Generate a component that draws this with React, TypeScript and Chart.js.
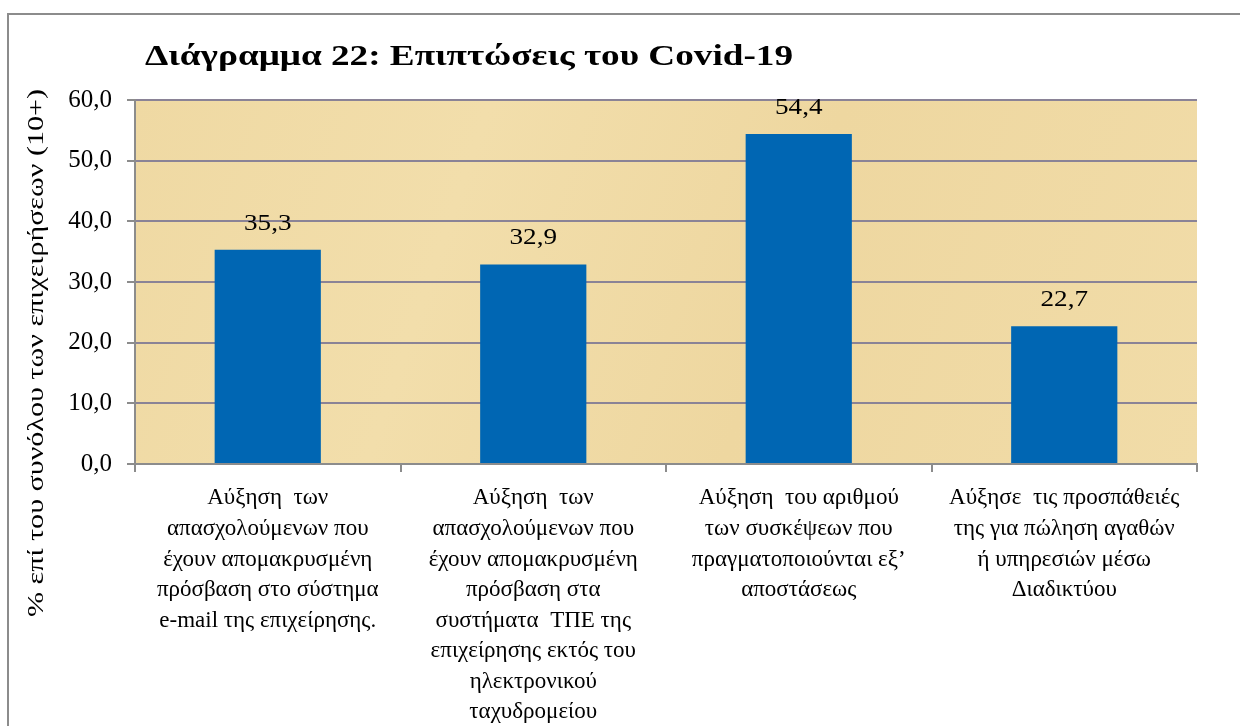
import React, { useEffect, useRef } from "react";
import { Chart, registerables } from "chart.js";

Chart.register(...registerables);

const TITLE = "Διάγραμμα 22: Επιπτώσεις του Covid-19";
const Y_TITLE = "% επί του συνόλου των επιχειρήσεων (10+)";

const CATEGORIES: string[][] = [
  ["Αύξηση  των", "απασχολούμενων που", "έχουν απομακρυσμένη", "πρόσβαση στο σύστημα", "e-mail της επιχείρησης."],
  ["Αύξηση  των", "απασχολούμενων που", "έχουν απομακρυσμένη", "πρόσβαση στα", "συστήματα  ΤΠΕ της", "επιχείρησης εκτός του", "ηλεκτρονικού", "ταχυδρομείου"],
  ["Αύξηση  του αριθμού", "των συσκέψεων που", "πραγματοποιούνται εξ’", "αποστάσεως"],
  ["Αύξησε  τις προσπάθειές", "της για πώληση αγαθών", "ή υπηρεσιών μέσω", "Διαδικτύου"],
];

const VALUES: number[] = [35.3, 32.9, 54.4, 22.7];

const Y_MIN = 0;
const Y_MAX = 60;
const Y_STEP = 10;

const FONT = "'Liberation Serif', 'Times New Roman', serif";
const fmt = (v: number) => v.toFixed(1).replace(".", ",");

// draws text horizontally stretched by sx around (x, y) with the current alignment
function stretchedText(ctx: CanvasRenderingContext2D, text: string, x: number, y: number, sx: number) {
  ctx.save();
  ctx.translate(x, y);
  ctx.scale(sx, 1);
  ctx.fillText(text, 0, 0);
  ctx.restore();
}

const decorPlugin = {
  id: "decor",
  beforeDraw(chart: any) {
    const { ctx, chartArea, width, height } = chart;
    ctx.save();
    ctx.fillStyle = "#ffffff";
    ctx.fillRect(0, 0, width, height);
    ctx.strokeStyle = "#8c8c8c";
    ctx.lineWidth = 2;
    ctx.strokeRect(8, 14, width + 40, height + 40);
    const g = ctx.createLinearGradient(chartArea.left, chartArea.top, chartArea.right, chartArea.bottom);
    g.addColorStop(0, "#efd9a3");
    g.addColorStop(0.3, "#f2deab");
    g.addColorStop(0.6, "#eed7a0");
    g.addColorStop(1, "#f1dca8");
    ctx.fillStyle = g;
    ctx.fillRect(chartArea.left, chartArea.top, chartArea.right - chartArea.left, chartArea.bottom - chartArea.top);
    ctx.restore();
  },
  afterDraw(chart: any) {
    const { ctx } = chart;
    ctx.save();
    ctx.fillStyle = "#000000";
    // title
    ctx.font = `bold 30px ${FONT}`;
    ctx.textAlign = "left";
    ctx.textBaseline = "alphabetic";
    const tw = ctx.measureText(TITLE).width;
    stretchedText(ctx, TITLE, 145, 65, 648 / tw);
    // y axis title
    ctx.font = `23px ${FONT}`;
    const yw = ctx.measureText(Y_TITLE).width;
    ctx.translate(37, 353);
    ctx.rotate(-Math.PI / 2);
    ctx.textAlign = "center";
    ctx.textBaseline = "middle";
    stretchedText(ctx, Y_TITLE, 0, 0, 528 / yw);
    ctx.restore();
  },
  afterDatasetsDraw(chart: any) {
    const { ctx } = chart;
    const meta = chart.getDatasetMeta(0);
    ctx.save();
    ctx.fillStyle = "#000000";
    ctx.font = `23px ${FONT}`;
    ctx.textAlign = "center";
    ctx.textBaseline = "middle";
    meta.data.forEach((bar: any, i: number) => {
      stretchedText(ctx, fmt(VALUES[i]), bar.x, bar.y - 26, 1.18);
    });
    ctx.restore();
  },
};

export default function App() {
  const ref = useRef<HTMLCanvasElement | null>(null);

  useEffect(() => {
    if (!ref.current) return;
    const chart = new Chart(ref.current, {
      type: "bar",
      data: {
        labels: CATEGORIES,
        datasets: [
          {
            data: VALUES,
            backgroundColor: "#0066b3",
            borderWidth: 0,
            barPercentage: 0.4,
            categoryPercentage: 1.0,
          },
        ],
      },
      options: {
        animation: false,
        responsive: false,
        devicePixelRatio: 1,
        layout: { padding: { top: 100, left: 0, right: 43, bottom: 0 } },
        plugins: {
          legend: { display: false },
          title: { display: false },
          tooltip: { enabled: false },
        },
        scales: {
          x: {
            offset: true,
            grid: {
              display: true,
              offset: true,
              drawOnChartArea: false,
              drawTicks: true,
              tickLength: 8,
              color: "#8c8c8c",
              lineWidth: 2,
            },
            border: { display: true, color: "#8c8c8c", width: 2 },
            ticks: {
              color: "#000000",
              font: { family: FONT, size: 23, lineHeight: 1.33 },
              padding: 11,
              maxRotation: 0,
              minRotation: 0,
              autoSkip: false,
            },
            afterFit(scale: any) {
              scale.height = 262;
            },
          },
          y: {
            min: Y_MIN,
            max: Y_MAX,
            ticks: {
              stepSize: Y_STEP,
              color: "#000000",
              font: { family: FONT, size: 25 },
              padding: 15,
              callback: (v: any) => fmt(Number(v)),
            },
            grid: {
              display: true,
              color: "#8a8396",
              lineWidth: 2,
              drawTicks: true,
              tickLength: 8,
              tickColor: "#8c8c8c",
            },
            border: { display: true, color: "#8c8c8c", width: 2 },
            afterFit(scale: any) {
              scale.width = 135;
            },
          },
        },
      },
      plugins: [decorPlugin],
    });
    return () => chart.destroy();
  }, []);

  return (
    <div style={{ position: "fixed", left: 0, top: 0, width: 1240, height: 726, overflow: "hidden", background: "#fff" }}>
      <canvas ref={ref} width={1240} height={726} style={{ display: "block" }} />
    </div>
  );
}
